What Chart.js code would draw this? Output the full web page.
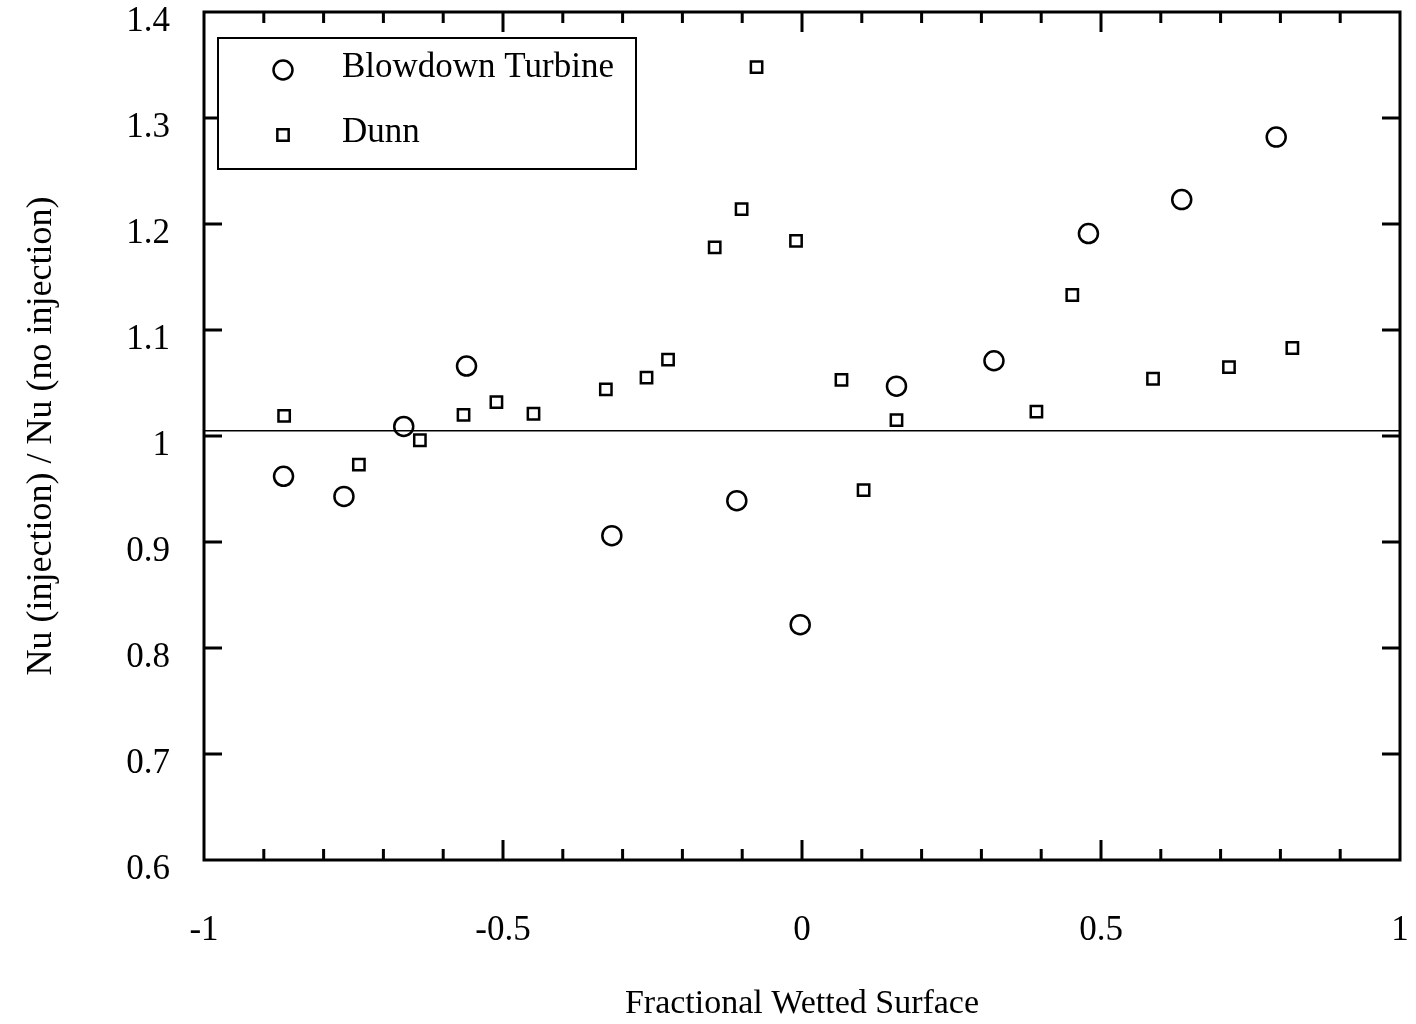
<!DOCTYPE html>
<html lang="en">

<head>
    <meta charset="UTF-8">
    <title>Nu ratio vs fractional wetted surface</title>
    <style>
        html, body {
            margin: 0;
            padding: 0;
            background: #fff;
        }
        #wrap {
            width: 1416px;
            height: 1024px;
        }
    </style>
</head>

<body>
    <div id="wrap">
        <canvas id="nuChart"></canvas>
    </div>

    <script src="https://cdn.jsdelivr.net/npm/chart.js"></script>

    <script>
        // Blowdown Turbine measurements
        const turbineX = [-0.867, -0.766, -0.666, -0.561, -0.318, -0.109, -0.003, 0.158, 0.321, 0.479, 0.635, 0.793];
        const turbineY = [0.962, 0.943, 1.009, 1.066, 0.906, 0.939, 0.822, 1.047, 1.071, 1.191, 1.223, 1.282];

        // Dunn data
        const dunnX = [-0.866, -0.741, -0.639, -0.566, -0.511, -0.449, -0.328, -0.260, -0.224, -0.146, -0.101, -0.076,
            -0.010, 0.066, 0.103, 0.158, 0.392, 0.452, 0.587, 0.714, 0.820];
        const dunnY = [1.019, 0.973, 0.996, 1.020, 1.032, 1.021, 1.044, 1.055, 1.072, 1.178, 1.214, 1.348,
            1.184, 1.053, 0.949, 1.015, 1.023, 1.133, 1.054, 1.065, 1.083];

        // reference line
        const refX = [-1, 1];
        const refY = [1.005, 1.005];

        const xTicks = [-1, -0.5, 0, 0.5, 1];
        const yTicks = [0.6, 0.7, 0.8, 0.9, 1, 1.1, 1.2, 1.3, 1.4];

        const FONT = "'Liberation Serif', 'Times New Roman', serif";

        const toPoints = (xs, ys) => xs.map((x, i) => ({ x: x, y: ys[i] }));

        // frame + inward ticks on all four sides
        const framePlugin = {
            id: 'frame',
            afterDraw(chart) {
                const ctx = chart.ctx;
                const a = chart.chartArea;
                const xs = chart.scales.x;
                const ys = chart.scales.y;
                ctx.save();
                ctx.strokeStyle = '#000';
                ctx.lineWidth = 3;
                ctx.strokeRect(a.left, a.top, a.right - a.left, a.bottom - a.top);

                for (let i = -9; i <= 9; i++) {
                    const px = xs.getPixelForValue(i / 10);
                    const len = (i % 5 === 0) ? 20 : 11;
                    ctx.beginPath();
                    ctx.moveTo(px, a.bottom);
                    ctx.lineTo(px, a.bottom - len);
                    ctx.moveTo(px, a.top);
                    ctx.lineTo(px, a.top + len);
                    ctx.stroke();
                }
                yTicks.slice(1, -1).forEach(v => {
                    const py = ys.getPixelForValue(v);
                    ctx.beginPath();
                    ctx.moveTo(a.left, py);
                    ctx.lineTo(a.left + 18, py);
                    ctx.moveTo(a.right, py);
                    ctx.lineTo(a.right - 18, py);
                    ctx.stroke();
                });
                ctx.restore();
            }
        };

        // boxed legend in the upper left corner
        const legendBoxPlugin = {
            id: 'legendBox',
            afterDraw(chart) {
                const ctx = chart.ctx;
                ctx.save();
                ctx.fillStyle = '#fff';
                ctx.fillRect(218, 38, 418, 131);
                ctx.strokeStyle = '#000';
                ctx.lineWidth = 2;
                ctx.strokeRect(218, 38, 418, 131);

                const rows = [
                    { ds: chart.data.datasets[0], y: 70 },
                    { ds: chart.data.datasets[1], y: 135 }
                ];
                rows.forEach(r => {
                    const ds = r.ds;
                    ctx.lineWidth = ds.borderWidth;
                    ctx.strokeStyle = '#000';
                    ctx.fillStyle = '#fff';
                    Chart.helpers.drawPoint(ctx, {
                        pointStyle: ds.pointStyle,
                        radius: ds.pointRadius,
                        borderWidth: ds.borderWidth,
                        rotation: 0
                    }, 283, r.y);
                    ctx.fillStyle = '#000';
                    ctx.font = '35px ' + FONT;
                    ctx.textBaseline = 'middle';
                    ctx.textAlign = 'left';
                    ctx.fillText(ds.label, 342, r.y - 2);
                });
                ctx.restore();
            }
        };

        new Chart(document.getElementById('nuChart'), {
            type: 'scatter',
            data: {
                datasets: [{
                    label: 'Blowdown Turbine',
                    data: toPoints(turbineX, turbineY),
                    pointStyle: 'circle',
                    pointRadius: 9.5,
                    borderWidth: 2.5,
                    borderColor: '#000',
                    backgroundColor: 'rgba(255,255,255,0)'
                }, {
                    label: 'Dunn',
                    data: toPoints(dunnX, dunnY),
                    pointStyle: 'rect',
                    pointRadius: 8,
                    borderWidth: 2.5,
                    borderColor: '#000',
                    backgroundColor: 'rgba(255,255,255,0)'
                }, {
                    type: 'line',
                    label: 'ref',
                    data: toPoints(refX, refY),
                    borderColor: '#000',
                    borderWidth: 1.5,
                    pointRadius: 0,
                    fill: false
                }]
            },
            options: {
                responsive: true,
                maintainAspectRatio: false,
                animation: false,
                events: [],
                layout: {
                    padding: { left: 0, right: 16, top: 10, bottom: 0 }
                },
                plugins: {
                    legend: { display: false },
                    tooltip: { enabled: false }
                },
                scales: {
                    x: {
                        type: 'linear',
                        min: -1,
                        max: 1,
                        afterFit: s => {
                            s.height = 164;
                            s.paddingLeft = 0;
                            s.paddingRight = 0;
                        },
                        afterBuildTicks: s => { s.ticks = xTicks.map(v => ({ value: v })); },
                        grid: { display: false, drawTicks: false },
                        border: { display: false },
                        ticks: {
                            color: '#000',
                            font: { family: FONT, size: 35 },
                            padding: 50,
                            maxRotation: 0,
                            callback: v => String(v)
                        },
                        title: {
                            display: true,
                            text: 'Fractional Wetted Surface',
                            color: '#000',
                            font: { family: FONT, size: 34 },
                            padding: { top: 6, bottom: 0 }
                        }
                    },
                    y: {
                        type: 'linear',
                        min: 0.6,
                        max: 1.4,
                        afterFit: s => {
                            s.width = 204;
                            s.paddingTop = 0;
                            s.paddingBottom = 0;
                        },
                        afterBuildTicks: s => { s.ticks = yTicks.map(v => ({ value: v })); },
                        grid: { display: false, drawTicks: false },
                        border: { display: false },
                        ticks: {
                            color: '#000',
                            font: { family: FONT, size: 35 },
                            padding: 34,
                            labelOffset: 10,
                            callback: v => String(v)
                        },
                        title: {
                            display: true,
                            text: 'Nu (injection) / Nu (no injection)',
                            color: '#000',
                            font: { family: FONT, size: 36 },
                            padding: { top: 20, bottom: 0 }
                        }
                    }
                }
            },
            plugins: [framePlugin, legendBoxPlugin]
        });
    </script>
</body>

</html>
